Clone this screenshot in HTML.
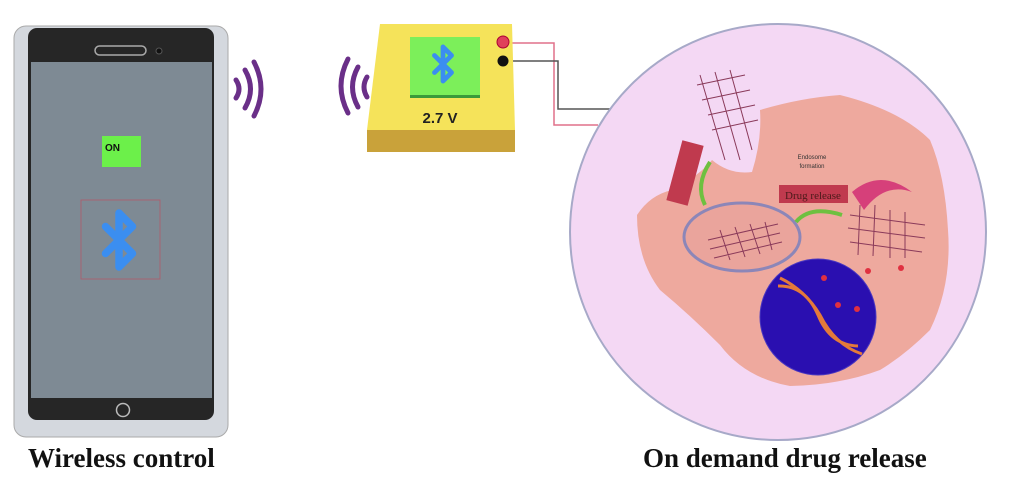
<!DOCTYPE html>
<html><head><style>
body{margin:0;width:1024px;height:496px;background:#fff;overflow:hidden;position:relative;font-family:"Liberation Sans",sans-serif}
.cap{position:absolute;font-family:"Liberation Serif",serif;font-weight:bold;font-size:27px;color:#111;white-space:nowrap;line-height:30px}
</style></head><body>
<svg width="1024" height="496" style="position:absolute;left:0;top:0">
<defs>
<path id="bt" d="M-9,-9 L9,9 L0,18 L0,-18 L9,-9 L-9,9" fill="none" stroke="#3b8ef0" stroke-width="5" stroke-linejoin="round" stroke-linecap="round"/>
</defs>
<!-- phone -->
<rect x="14" y="26" width="214" height="411" rx="12" fill="#d4d8de" stroke="#aaa"/>
<rect x="28" y="28" width="186" height="392" rx="9" fill="#262626"/>
<rect x="31" y="62" width="181" height="336" fill="#7e8a94"/>
<rect x="95" y="46" width="51" height="9" rx="4.5" fill="none" stroke="#aaa" stroke-width="1.5"/>
<circle cx="159" cy="51" r="3" fill="#111" stroke="#555"/>
<circle cx="123" cy="410" r="6.5" fill="none" stroke="#bbb" stroke-width="1.5"/>
<rect x="102" y="136" width="39" height="31" fill="#6cf04a"/>
<text x="105" y="151" font-size="10" font-weight="bold" fill="#111">ON</text>
<rect x="81" y="200" width="79" height="79" fill="none" stroke="#b05a6a" stroke-width="0.8"/>
<use href="#bt" transform="translate(119,240) scale(1.5)"/>
<!-- waves -->
<g fill="none" stroke="#6a2f88" stroke-width="5" stroke-linecap="round">
<path d="M236,80 Q242,89 236,98"/><path d="M245,70 Q256,89 245,108"/><path d="M254,62 Q268,89 254,116"/>
<path d="M367,77 Q361,87 367,97"/><path d="M358,67 Q347,87 358,107"/><path d="M348,59 Q334,86 348,113"/>
</g>
<!-- wires -->
<polyline points="508,43 554,43 554,125 598,125" fill="none" stroke="#e0708a" stroke-width="1.5"/>
<polyline points="508,61 558,61 558,109 610,109" fill="none" stroke="#555" stroke-width="1.5"/>
<!-- battery -->
<polygon points="380,24 512,24 515,130 367,130" fill="#f5e35a"/>
<rect x="367" y="130" width="148" height="22" fill="#c9a23a"/>
<rect x="410" y="37" width="70" height="58" fill="#7cef5a"/>
<rect x="410" y="95" width="70" height="3" fill="#3a9a3a"/>
<use href="#bt" transform="translate(443,64) scale(0.95)"/>
<text x="440" y="123" font-size="15" font-weight="bold" fill="#222" text-anchor="middle">2.7 V</text>
<circle cx="503" cy="42" r="6" fill="#e0405a" stroke="#a03"/>
<circle cx="503" cy="61" r="5.5" fill="#111"/>
<!-- circle -->
<circle cx="778" cy="232" r="208" fill="#f4d8f4" stroke="#a7a9c8" stroke-width="2"/>
<path d="M637,215 Q650,195 672,190 Q700,175 712,160 Q730,175 752,172 Q762,140 760,110 Q800,98 840,95 Q900,110 930,140 Q945,175 948,230 Q952,285 930,330 Q905,355 880,370 Q840,385 790,386 Q745,378 720,345 Q690,315 660,290 Q637,260 637,215 Z" fill="#eea99e"/>
<ellipse cx="742" cy="237" rx="58" ry="34" fill="#eaa49c" stroke="#8c86b8" stroke-width="3"/>
<g fill="none" stroke="#8a3a5a" stroke-width="1">
<path d="M708,240 L778,224 M710,249 L780,233 M714,258 L782,242 M720,230 L730,260 M735,227 L745,257 M750,224 L760,254 M765,222 L772,250"/>
<path d="M697,85 L745,75 M702,100 L750,90 M708,115 L755,105 M712,130 L758,120 M700,75 L725,160 M715,72 L740,160 M730,70 L752,150"/>
<path d="M850,215 L925,225 M848,228 L925,238 M850,242 L922,252 M860,205 L858,255 M875,205 L873,256 M890,210 L890,258 M905,212 L905,258"/>
</g>
<circle cx="818" cy="317" r="58" fill="#2a0fb0" stroke="#4a38c0"/>
<path d="M780,278 Q805,290 820,315 Q835,345 862,354 M778,286 Q805,285 818,315 Q830,345 858,346" fill="none" stroke="#e47a3a" stroke-width="3"/>
<rect x="674" y="142" width="22" height="62" fill="#c03a4e" transform="rotate(15 685 173)"/>
<rect x="779" y="185" width="69" height="18" fill="#c03a4e"/>
<text x="813" y="199" font-size="11" fill="#4a1a1a" text-anchor="middle" font-family="Liberation Serif">Drug release</text>
<text x="812" y="159" font-size="6" fill="#333" text-anchor="middle">Endosome</text>
<text x="812" y="168" font-size="6" fill="#333" text-anchor="middle">formation</text>
<path d="M852,192 Q880,168 912,192 Q885,182 864,210 Z" fill="#d6407a"/>
<g fill="none" stroke="#6ec040" stroke-width="4"><path d="M710,162 Q695,185 705,205"/><path d="M796,222 Q810,205 842,215"/></g>
<g fill="#e03040"><circle cx="824" cy="278" r="3"/><circle cx="838" cy="305" r="3"/><circle cx="857" cy="309" r="3"/><circle cx="868" cy="271" r="3"/><circle cx="901" cy="268" r="3"/></g>
</svg>
<div class="cap" style="left:28px;top:443px">Wireless control</div>
<div class="cap" style="left:643px;top:443px">On demand drug release</div>
</body></html>
